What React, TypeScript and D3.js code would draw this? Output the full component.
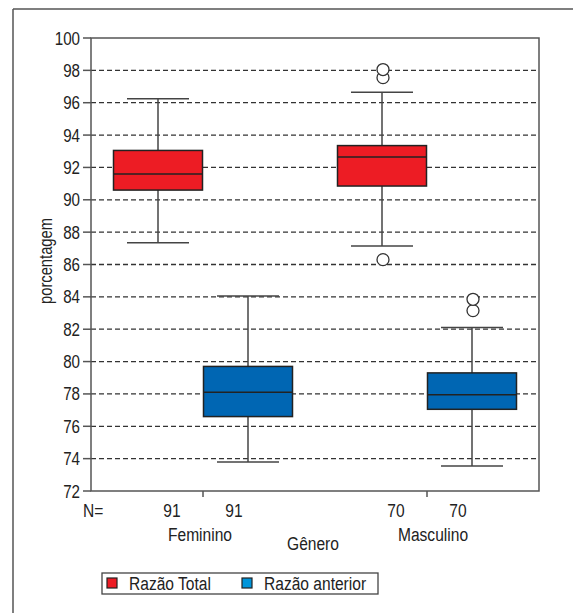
import React from "react";
import * as d3 from "d3";

const categories = ["Feminino", "Masculino"];
const seriesNames = ["Razão Total", "Razão anterior"];
const seriesColors = ["#ED1C24", "#0066B3"];
const legendColors = ["#ED1C24", "#0095DA"];
const nCounts = [
  [91, 91],
  [70, 70],
];
// [min, q1, median, q3, max] per category
const razaoTotal = [
  [87.35, 90.6, 91.6, 93.05, 96.25],
  [87.15, 90.85, 92.65, 93.35, 96.65],
];
const razaoAnterior = [
  [73.8, 76.6, 78.1, 79.7, 84.05],
  [73.55, 77.05, 77.95, 79.3, 82.1],
];
const outliersTotal = [[], [86.3, 97.55, 98.05]];
const outliersAnterior = [[], [83.15, 83.85]];
const yTicks = [72, 74, 76, 78, 80, 82, 84, 86, 88, 90, 92, 94, 96, 98, 100];

const W = 573;
const H = 613;
const plot = { left: 91, right: 539, top: 38, bottom: 491 };
const FONT = "'Liberation Sans', Arial, sans-serif";
const SX = 0.82;

function T({ x, y, size = 19, anchor = "start", rotate = 0, children }: any) {
  return (
    <text
      transform={`translate(${x},${y})${rotate ? ` rotate(${rotate})` : ""} scale(${SX},1)`}
      textAnchor={anchor}
      fontSize={size}
      fill="#222"
      fontFamily={FONT}
    >
      {children}
    </text>
  );
}

export default function App() {
  const y = d3.scaleLinear().domain([72, 100]).range([plot.bottom, plot.top]);
  const x = d3.scaleBand().domain(categories).range([plot.left, plot.right]);
  const boxW = 89;
  const capW = 62;
  const allStats = [razaoTotal, razaoAnterior];
  const allOut = [outliersTotal, outliersAnterior];

  const center = (ci: number, si: number) => {
    const c = (x(categories[ci]) as number) + x.bandwidth() / 2;
    return c + (si === 0 ? -45 : 45);
  };

  return (
    <svg width={W} height={H} style={{ position: "absolute", left: 0, top: 0, background: "#fff" }}>
      {/* outer frame */}
      <line x1={13} y1={9} x2={W} y2={9} stroke="#555" strokeWidth={1.5} />
      <line x1={13} y1={9} x2={13} y2={H} stroke="#555" strokeWidth={1.5} />

      {/* grid */}
      {yTicks.filter((t) => t !== 100 && t !== 72).map((t) => (
        <line key={"g" + t} x1={plot.left} x2={plot.right} y1={y(t)} y2={y(t)} stroke="#333" strokeWidth={1.3} strokeDasharray="5,3" />
      ))}
      {/* frame */}
      <rect x={plot.left} y={plot.top} width={plot.right - plot.left} height={plot.bottom - plot.top} fill="none" stroke="#555" strokeWidth={1.5} />

      {/* y ticks */}
      {yTicks.map((t) => (
        <g key={"t" + t}>
          <line x1={plot.left - 8} x2={plot.left} y1={y(t)} y2={y(t)} stroke="#555" strokeWidth={1.5} />
          <T x={plot.left - 11} y={y(t) + 6.5} size={18.5} anchor="end">{t}</T>
        </g>
      ))}
      <T x={52} y={261} size={18} anchor="middle" rotate={-90}>porcentagem</T>

      {/* x ticks */}
      {categories.map((c, ci) => {
        const cx = (x(c) as number) + x.bandwidth() / 2;
        return (
          <g key={c}>
            <line x1={cx} x2={cx} y1={plot.bottom} y2={plot.bottom + 6} stroke="#555" strokeWidth={1.5} />
            <T x={cx - 31} y={517} anchor="middle">{nCounts[ci][0]}</T>
            <T x={cx + 31} y={517} anchor="middle">{nCounts[ci][1]}</T>
            <T x={cx + (ci === 0 ? -3 : 6)} y={541} anchor="middle">{c}</T>
          </g>
        );
      })}
      <T x={83} y={517}>N=</T>
      <T x={313} y={550} anchor="middle">Gênero</T>

      {/* boxes */}
      {allStats.map((stats, si) =>
        stats.map((s, ci) => {
          const cx = center(ci, si);
          const [mn, q1, md, q3, mx] = s;
          return (
            <g key={`b${si}-${ci}`}>
              <line x1={cx} x2={cx} y1={y(mx)} y2={y(q3)} stroke="#444" strokeWidth={1.5} />
              <line x1={cx} x2={cx} y1={y(q1)} y2={y(mn)} stroke="#444" strokeWidth={1.5} />
              <line x1={cx - capW / 2} x2={cx + capW / 2} y1={y(mx)} y2={y(mx)} stroke="#444" strokeWidth={1.5} />
              <line x1={cx - capW / 2} x2={cx + capW / 2} y1={y(mn)} y2={y(mn)} stroke="#444" strokeWidth={1.5} />
              <rect x={cx - boxW / 2} y={y(q3)} width={boxW} height={y(q1) - y(q3)} fill={seriesColors[si]} stroke="#222" strokeWidth={1.5} />
              <line x1={cx - boxW / 2} x2={cx + boxW / 2} y1={y(md)} y2={y(md)} stroke="#222" strokeWidth={1.5} />
              {allOut[si][ci].map((o, oi) => (
                <circle key={oi} cx={cx + 1} cy={y(o)} r={6} fill="#fff" stroke="#333" strokeWidth={1.3} />
              ))}
            </g>
          );
        })
      )}

      {/* legend */}
      <rect x={102} y={573} width={276} height={21} fill="#fff" stroke="#444" strokeWidth={1.3} />
      {seriesNames.map((n, i) => {
        const lx = i === 0 ? 107 : 242;
        return (
          <g key={n}>
            <rect x={lx} y={578} width={10} height={10} fill={legendColors[i]} stroke="#222" strokeWidth={1.2} />
            <T x={lx + 22} y={590}>{n}</T>
          </g>
        );
      })}
    </svg>
  );
}
